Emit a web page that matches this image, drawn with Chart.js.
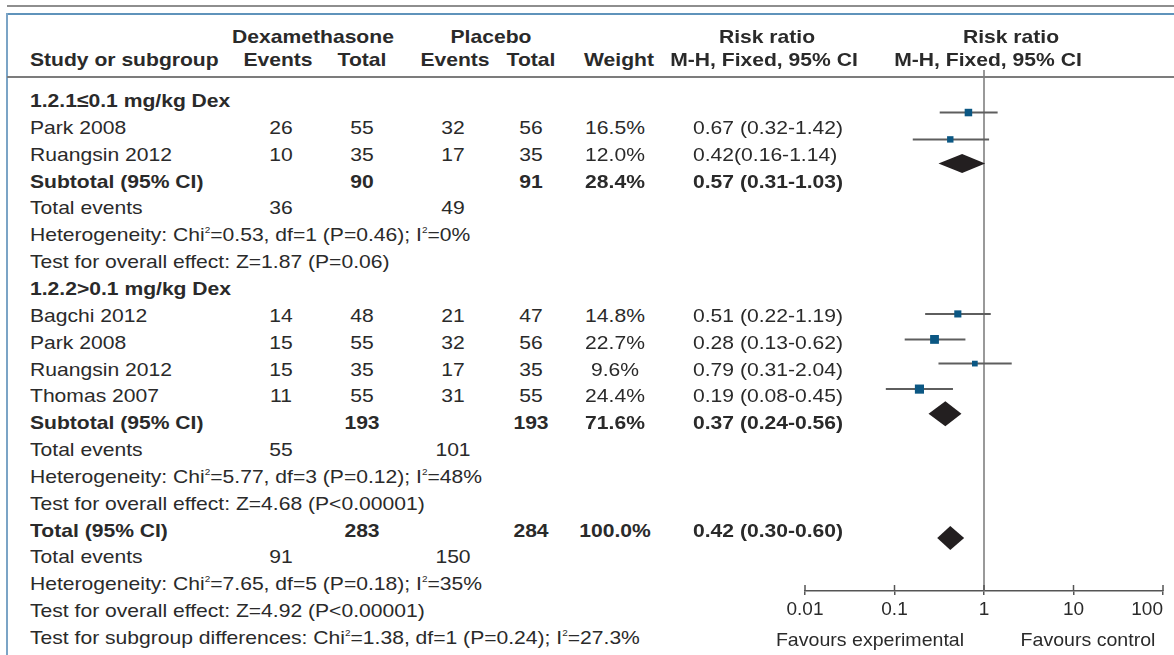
<!DOCTYPE html>
<html><head><meta charset="utf-8">
<script src="https://cdn.jsdelivr.net/npm/chart.js@4.4.1/dist/chart.umd.min.js"></script>
<style>
html,body{margin:0;padding:0;background:#fff;overflow:hidden;width:1174px;height:655px;}
#wrap{position:relative;width:1174px;height:655px;overflow:hidden;font-family:"Liberation Sans",Arial,sans-serif;color:#2a2a2a;}
.t{position:absolute;white-space:nowrap;font-size:19px;line-height:22px;height:22px;transform:scaleX(1.11);transform-origin:0 50%;}
.b{font-weight:bold;}
.c{text-align:center;width:240px;transform-origin:50% 50%;}
.f{transform:scaleX(1.03);}
.ln{position:absolute;}
.sp{font-size:9px;position:relative;top:-8px;}
#cv{position:absolute;left:760px;top:0;}
</style></head>
<body><div id="wrap"><canvas id="cv" width="440" height="655"></canvas></div>
<script>
// ---------------- data ----------------
const groupLabels = ['1.2.1\u22640.1 mg/kg Dex', '1.2.2>0.1 mg/kg Dex'];
const studies   = ['Park 2008', 'Ruangsin 2012', 'Bagchi 2012', 'Park 2008', 'Ruangsin 2012', 'Thomas 2007'];
const studyGroup = [0, 0, 1, 1, 1, 1];
const dexEvents = [26, 10, 14, 15, 15, 11];
const dexTotal  = [55, 35, 48, 55, 35, 55];
const plaEvents = [32, 17, 21, 32, 17, 31];
const plaTotal  = [56, 35, 47, 56, 35, 55];
const weights   = [16.5, 12.0, 14.8, 22.7, 9.6, 24.4];
const rr        = [0.67, 0.42, 0.51, 0.28, 0.79, 0.19];
const rrLow     = [0.32, 0.16, 0.22, 0.13, 0.31, 0.08];
const rrHigh    = [1.42, 1.14, 1.19, 0.62, 2.04, 0.45];
const ciSep     = [' ', '', ' ', ' ', ' ', ' '];
const studyMarkerRow = [0.43, 1.43, 7.93, 8.88, 9.78, 10.73];

const pooledNames    = ['Subtotal (95% CI)', 'Subtotal (95% CI)', 'Total (95% CI)'];
const pooledDexTotal = [90, 193, 283];
const pooledPlaTotal = [91, 193, 284];
const pooledWeight   = [28.4, 71.6, 100.0];
const pooledRR       = [0.57, 0.37, 0.42];
const pooledLow      = [0.31, 0.24, 0.30];
const pooledHigh     = [1.03, 0.56, 0.60];
const pooledMarkerRow = [2.33, 11.65, 16.28];

const totEventsDex = [36, 55, 91];
const totEventsPla = [49, 101, 150];
const hetChi2 = [0.53, 5.77, 7.65];
const hetDf   = [1, 3, 5];
const hetP    = ['0.46', '0.12', '0.18'];
const hetI2   = ['0', '48', '35'];
const effZ    = [1.87, 4.68, 4.92];
const effP    = ['P=0.06', 'P<0.00001', 'P<0.00001'];
const subgroupDiff = {chi2: 1.38, df: 1, p: '0.24', i2: '27.3'};

const axisTicks  = [0.01, 0.1, 1, 10, 100];
const tickLabels = ['0.01', '0.1', '1', '10', '100'];

// ---------------- layout / style ----------------
const FONT = '"Liberation Sans", Arial, sans-serif';
const ROW0 = 101, ROWH = 26.85;
const COL = {label: 30, dexE: 281, dexT: 362, plaE: 453, plaT: 531, weight: 615, ci: 693};
const diamondHalf = [9.5, 12.5, 12];
const wrap = document.getElementById('wrap');

function put(html, x, y, align, bold, extra) {
  const d = document.createElement('div');
  d.className = 't' + (bold ? ' b' : '') + (align === 'c' ? ' c' : '') + (extra ? ' ' + extra : '');
  d.innerHTML = html;
  d.style.left = (align === 'c' ? x - 120 : x) + 'px';
  d.style.top = (y - 11) + 'px';
  wrap.appendChild(d);
}
function line(l, t, w, h, c) {
  const d = document.createElement('div');
  d.className = 'ln';
  Object.assign(d.style, {left: l + 'px', top: t + 'px', width: w + 'px', height: h + 'px', background: c});
  wrap.appendChild(d);
}
const rowY = r => ROW0 + r * ROWH;
const sup = '<span class="sp">2</span>';
const ciText = (a, lo, hi, sep) => `${a.toFixed(2)}${sep}(${lo.toFixed(2)}-${hi.toFixed(2)})`;

// frame lines
line(7, 5, 1167, 2, '#8e8e8e');
line(7, 13, 1167, 2, '#5f93bb');
line(6, 13, 2, 642, '#7ba4c6');
line(7, 76, 1167, 2, '#7c7c7c');

// header
put('Dexamethasone', 313, 37, 'c', true);
put('Placebo', 491, 37, 'c', true);
put('Risk ratio', 767, 37, 'c', true);
put('Risk ratio', 1011, 37, 'c', true);
put('Study or subgroup', COL.label, 60, 'l', true);
put('Events', 278, 60, 'c', true);
put('Total', 362, 60, 'c', true);
put('Events', 455, 60, 'c', true);
put('Total', 531, 60, 'c', true);
put('Weight', 619, 60, 'c', true);
put('M-H, Fixed, 95% CI', 764, 60, 'c', true);
put('M-H, Fixed, 95% CI', 988, 60, 'c', true);

function summaryRows(r, g) {
  put(pooledNames[g], COL.label, rowY(r), 'l', true);
  put(String(pooledDexTotal[g]), COL.dexT, rowY(r), 'c', true);
  put(String(pooledPlaTotal[g]), COL.plaT, rowY(r), 'c', true);
  put(pooledWeight[g].toFixed(1) + '%', COL.weight, rowY(r), 'c', true);
  put(ciText(pooledRR[g], pooledLow[g], pooledHigh[g], ' '), COL.ci, rowY(r), 'l', true);
  r++;
  put('Total events', COL.label, rowY(r), 'l');
  put(String(totEventsDex[g]), COL.dexE, rowY(r), 'c');
  put(String(totEventsPla[g]), COL.plaE, rowY(r), 'c');
  r++;
  put(`Heterogeneity: Chi${sup}=${hetChi2[g].toFixed(2)}, df=${hetDf[g]} (P=${hetP[g]}); I${sup}=${hetI2[g]}%`, COL.label, rowY(r), 'l');
  r++;
  put(`Test for overall effect: Z=${effZ[g].toFixed(2)} (${effP[g]})`, COL.label, rowY(r), 'l');
  r++;
  return r;
}

let r = 0;
groupLabels.forEach((gl, g) => {
  put(gl, COL.label, rowY(r), 'l', true); r++;
  studies.forEach((s, i) => {
    if (studyGroup[i] !== g) return;
    const y = rowY(r);
    put(s, COL.label, y, 'l');
    put(String(dexEvents[i]), COL.dexE, y, 'c');
    put(String(dexTotal[i]), COL.dexT, y, 'c');
    put(String(plaEvents[i]), COL.plaE, y, 'c');
    put(String(plaTotal[i]), COL.plaT, y, 'c');
    put(weights[i].toFixed(1) + '%', COL.weight, y, 'c');
    put(ciText(rr[i], rrLow[i], rrHigh[i], ciSep[i]), COL.ci, y, 'l');
    r++;
  });
  r = summaryRows(r, g);
});
r = summaryRows(r, 2);
put(`Test for subgroup differences: Chi${sup}=${subgroupDiff.chi2.toFixed(2)}, df=${subgroupDiff.df} (P=${subgroupDiff.p}); I${sup}=${subgroupDiff.i2}%`, COL.label, rowY(r), 'l');

put('Favours experimental', 870, 640, 'c', false, 'f');
put('Favours control', 1088, 640, 'c', false, 'f');

// ---------------- chart ----------------
const forest = {
  id: 'forest',
  beforeDatasetsDraw(chart) {
    const {ctx, chartArea} = chart; const x = chart.scales.x, y = chart.scales.y;
    ctx.save();
    const x1 = x.getPixelForValue(1);
    ctx.strokeStyle = '#999'; ctx.lineWidth = 2;
    ctx.beginPath(); ctx.moveTo(x1, chartArea.top - 7); ctx.lineTo(x1, chartArea.bottom); ctx.stroke();
    ctx.strokeStyle = '#555'; ctx.lineWidth = 1.5;
    x.ticks.forEach(t => {
      const px = x.getPixelForValue(t.value);
      ctx.beginPath(); ctx.moveTo(px, chartArea.bottom); ctx.lineTo(px, chartArea.bottom - 6); ctx.stroke();
    });
    ctx.strokeStyle = '#5e5e5e'; ctx.lineWidth = 2;
    studies.forEach((s, i) => {
      const py = y.getPixelForValue(studyMarkerRow[i]);
      ctx.beginPath(); ctx.moveTo(x.getPixelForValue(rrLow[i]), py); ctx.lineTo(x.getPixelForValue(rrHigh[i]), py); ctx.stroke();
    });
    ctx.restore();
  },
  afterDatasetsDraw(chart) {
    const {ctx} = chart; const x = chart.scales.x, y = chart.scales.y;
    ctx.save();
    ctx.fillStyle = '#231f20';
    pooledRR.forEach((v, j) => {
      const xl = x.getPixelForValue(pooledLow[j]), xc = x.getPixelForValue(v), xr = x.getPixelForValue(pooledHigh[j]);
      const yc = y.getPixelForValue(pooledMarkerRow[j]), h = diamondHalf[j];
      ctx.beginPath(); ctx.moveTo(xl, yc); ctx.lineTo(xc, yc - h); ctx.lineTo(xr, yc); ctx.lineTo(xc, yc + h); ctx.closePath(); ctx.fill();
    });
    ctx.restore();
  }
};

const radii = weights.map(w => 1.85 * Math.sqrt(w) / Math.SQRT2);
new Chart(document.getElementById('cv'), {
  type: 'scatter',
  data: {datasets: [{
    data: studies.map((s, i) => ({x: rr[i], y: studyMarkerRow[i]})),
    pointStyle: 'rect', pointRadius: radii, pointHoverRadius: radii,
    backgroundColor: '#0b5783', borderWidth: 0
  }]},
  options: {
    responsive: false, animation: false, devicePixelRatio: 1,
    events: [],
    layout: {padding: {left: 45, right: 37, top: 77, bottom: 0}},
    plugins: {legend: {display: false}, tooltip: {enabled: false}},
    scales: {
      x: {
        type: 'logarithmic', min: 0.01, max: 100, position: 'bottom',
        afterBuildTicks: s => { s.ticks = axisTicks.map(v => ({value: v})); },
        afterFit: s => { s.height = 64; },
        ticks: {
          autoSkip: false, maxRotation: 0, padding: 3, color: '#2a2a2a',
          font: {family: FONT, size: 19},
          callback: (v, i) => i === axisTicks.length - 1 ? tickLabels[i] + '\u2007\u2007\u2007' : tickLabels[i]
        },
        grid: {drawOnChartArea: false, tickLength: 4, color: '#555', lineWidth: 1.5},
        border: {display: true, color: '#555', width: 1.5}
      },
      y: {type: 'linear', reverse: true, min: (77 - ROW0) / ROWH, max: (591 - ROW0) / ROWH, display: false}
    }
  },
  plugins: [forest]
});
</script></body></html>
